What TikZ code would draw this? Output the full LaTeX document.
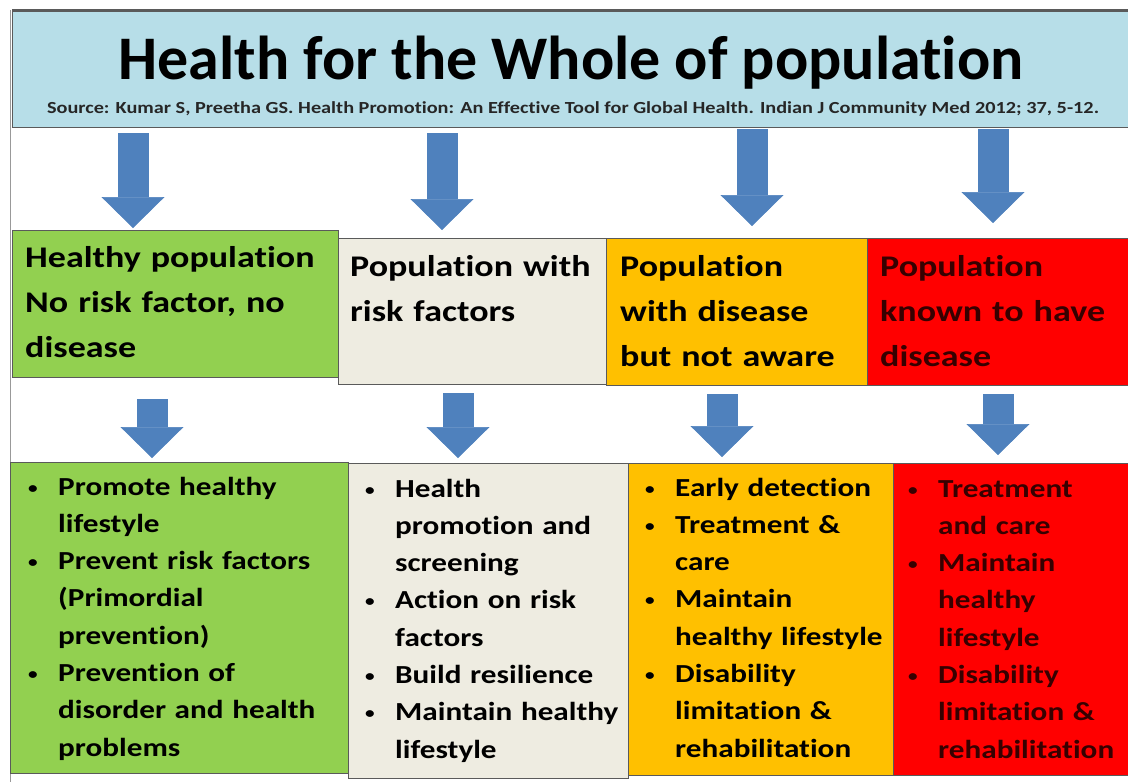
\documentclass[tikz,border=0pt]{standalone}
\usepackage{fontspec}
\setmainfont{Carlito}[Ligatures=NoCommon]
\newfontfamily\boxfont[FakeStretch=1.2,Ligatures=NoCommon]{Carlito}
\newfontfamily\srcfont[FakeStretch=1.2,Ligatures=NoCommon]{Carlito}
\usetikzlibrary{arrows.meta,calc}
\definecolor{HeadBlue}{RGB}{183,222,232}
\definecolor{ArrowBlue}{RGB}{79,129,189}
\definecolor{LeafGreen}{RGB}{146,208,80}
\definecolor{PaleBeige}{RGB}{238,236,225}
\definecolor{Amber}{RGB}{255,192,0}
\definecolor{AlarmRed}{RGB}{255,0,0}
\definecolor{DarkRed}{RGB}{55,0,0}
\definecolor{EdgeGray}{RGB}{90,90,90}
\newcommand\itm{\makebox[30pt][l]{\raisebox{2pt}{\fontsize{16}{16}\selectfont\textbullet}}}
\newcommand\ind{\hspace*{30pt}}
\tikzset{
  panel/.style={draw=EdgeGray,line width=1.2pt,anchor=north west,inner sep=0pt},
  blockarrow/.style={draw=ArrowBlue,line width=31pt,
    -{Triangle[width=63pt,length=31pt,line width=0.6pt,fill=ArrowBlue]}},
  heading/.style={anchor=base west,inner sep=0pt,align=left,text width=330pt,
    font=\boxfont\fontsize{30}{45}\selectfont\bfseries},
  bullets/.style={anchor=base west,inner sep=0pt,align=left,text width=330pt,
    font=\boxfont\fontsize{26}{37.3}\selectfont\bfseries},
}

\begin{document}
\begin{tikzpicture}[x=1pt,y=-1pt]
  \useasboundingbox (0,0) rectangle (1128,782);
  % frame and title bar
  \draw[black!40,line width=1pt] (10.5,10) -- (10.5,782);
  \node[panel,fill=HeadBlue,minimum width=1116pt,minimum height=117pt] (hdr) at (12,10) {};
  \draw[EdgeGray,line width=3pt] (hdr.north west) -- (hdr.north east);
  \node[anchor=base,inner sep=0pt,font=\fontsize{62}{70}\selectfont\bfseries] (title)
    at (571,79) {Health for the Whole of population};
  \node[anchor=base,inner sep=0pt,font=\srcfont\fontsize{16.9}{19}\selectfont\bfseries,text=black!85] (src)
    at (573,113) {Source: Kumar S, Preetha GS. Health Promotion: An Effective Tool for Global Health. Indian J Community Med 2012; 37, 5-12.};

  % population groups
  \node[panel,fill=LeafGreen,minimum width=326pt,minimum height=147pt] (g1) at (12,230) {};
  \node[panel,fill=PaleBeige,minimum width=268pt,minimum height=146pt] (b1) at (338,238) {};
  \node[panel,fill=Amber,minimum width=261pt,minimum height=147pt] (o1) at (606,238) {};
  \node[panel,fill=AlarmRed,minimum width=261pt,minimum height=147pt] (r1) at (867,238) {};
  \node[heading] (g1t) at (25,267) {Healthy population\\No risk factor, no\\disease};
  \node[heading] (b1t) at (350,276) {Population with\\risk factors};
  \node[heading] (o1t) at (620,276) {Population\\with disease\\but not aware};
  \node[heading,text=DarkRed] (r1t) at (880,276) {Population\\known to have\\disease};

  % actions
  \node[panel,fill=LeafGreen,minimum width=338pt,minimum height=311pt] (g2) at (10,462) {};
  \node[panel,fill=PaleBeige,minimum width=280pt,minimum height=315pt] (b2) at (348,463) {};
  \node[panel,fill=Amber,minimum width=265pt,minimum height=312pt] (o2) at (628,463) {};
  \node[panel,fill=AlarmRed,minimum width=235pt,minimum height=312pt] (r2) at (893,463) {};
  \node[bullets] (g2t) at (28,495) {\itm Promote healthy\\\ind lifestyle\\\itm Prevent risk factors\\
    \ind (Primordial\\\ind prevention)\\\itm Prevention of\\\ind disorder and health\\\ind problems};
  \node[bullets] (b2t) at (365,497) {\itm Health\\\ind promotion and\\\ind screening\\\itm Action on risk\\
    \ind factors\\\itm Build resilience\\\itm Maintain healthy\\\ind lifestyle};
  \node[bullets] (o2t) at (645,496) {\itm Early detection\\\itm Treatment \&\\\ind care\\\itm Maintain\\
    \ind healthy lifestyle\\\itm Disability\\\ind limitation \&\\\ind rehabilitation};
  \node[bullets,text=DarkRed] (r2t) at (908,497) {\itm Treatment\\\ind and care\\\itm Maintain\\\ind healthy\\
    \ind lifestyle\\\itm Disability\\\ind limitation \&\\\ind rehabilitation};

  % arrows
  \coordinate (p1) at (133,0);
  \coordinate (p2) at (442,0);
  \coordinate (p3) at (752,0);
  \coordinate (p4) at (993,0);
  \coordinate (q1) at (152,0);
  \coordinate (q2) at (458,0);
  \coordinate (q3) at (722,0);
  \coordinate (q4) at (998,0);
  \foreach \p/\b/\s/\e in {p1/g1/5/2,p2/b1/5/8,p3/o1/1/12,p4/r1/1/15}
    \draw[blockarrow,shorten <=\s pt,shorten >=\e pt] (hdr.south -| \p) -- (\p |- \b.north);
  \foreach \q/\a/\b/\s/\e in {q1/g1/g2/21/4,q2/b1/b2/8/5,q3/o1/o2/8/6,q4/r1/r2/8/8}
    \draw[blockarrow,shorten <=\s pt,shorten >=\e pt] (\a.south -| \q) -- (\q |- \b.north);
\end{tikzpicture}
\end{document}
